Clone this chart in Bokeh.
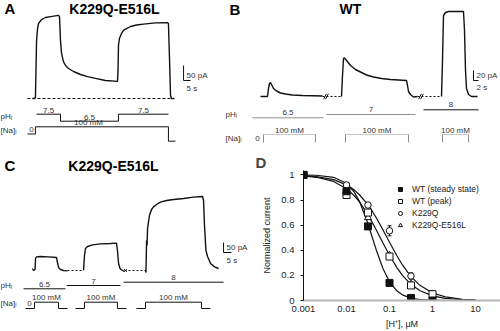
from bokeh.plotting import figure
from bokeh.layouts import row, column
from bokeh.models import (Range1d, FixedTicker, CustomJSTickFormatter, Legend,
                          LegendItem, ColumnDataSource, Whisker, TeeHead)
from bokeh.embed import file_html
from bokeh.resources import INLINE
from bokeh.core.properties import value

FONT = "Liberation Sans"
INK = "#111111"
TXT = "#333333"
GRAY = "#8f8f8f"
LIGHT = "#c8c8c8"

# ---------------- Panel A: K229Q-E516L, pH 7.5 -> 6.5 -> 7.5 ----------------
A_T = [0, 1.4, 2.1, 2.9, 3.6, 4.3, 6.4, 9.3, 12.9, 18.6, 19.3, 20.0, 20.7, 21.4,
       22.1, 23.6, 25.7, 29.3, 34.3, 39.3, 45.0, 52.1, 60.7, 61.1, 61.4, 62.1,
       63.6, 65.0, 67.1, 70.0, 74.3, 79.3, 87.9, 96.4, 97.1, 97.9, 98.6, 99.3, 101.4]
A_I = [0, 0, 3, 193, 233, 250, 263, 270, 273, 277, 273, 193, 153, 137, 123, 110,
       100, 90, 80, 73, 67, 60, 57, 93, 177, 200, 217, 227, 233, 240, 245, 248,
       252, 253, 250, 127, 10, 0, 0]
A_BASELINE = (-3.6, 99.3)
A_PH_EDGES = [2.9, 20.0, 61.4, 97.1]
A_PH = ["7.5", "6.5", "7.5"]
A_NA_EDGES = [2.1, 97.1]
A_SCALE = dict(t=107.9, i=60, dt=5, di=50, lab_i="50 pA", lab_t="5 s")

# ---------------- Panel B: WT ----------------
B1_T = [0, 2.8, 3.2, 3.6, 4.0, 4.4, 5.2, 6.4, 8.0, 10.0, 12.8, 16.8, 24.8]
B1_I = [0, 0, 16, 26, 28, 24, 16, 11, 7, 5, 3, 2, 1]
B2_T = [32.4, 32.8, 33.2, 33.6, 34.4, 36.0, 38.0, 40.0, 42.4, 45.2, 48.4, 52.0,
        58.4, 58.8, 59.2, 60.0, 61.2, 62.8]
B2_I = [0, 42, 76, 77, 72, 62, 54, 49, 43, 39, 36, 34, 32, 22, 10, 4, -1, 0]
B3_T = [72.4, 72.8, 73.2, 74.0, 75.2, 81.2, 81.6, 82.0, 82.4, 83.2, 84.4, 86.8]
B3_I = [0, 72, 162, 168, 170, 170, 132, 52, 16, 4, 0, 0]
B_GAPS = [(24.8, 32.4), (62.8, 72.4)]
B_PH_SEGS = [(-3.2, 25.2), (26.4, 62.0), (65.2, 87.2)]
B_PH = ["6.5", "7", "8"]
B_NA_ON = [(1.2, 22.0), (34.0, 59.2), (72.8, 83.2)]
B_SCALE = dict(t=85.2, i=32, dt=2, di=20, lab_i="20 pA", lab_t="2 s")

# ---------------- Panel C: K229Q-E516L, pH 6.5 / 7 / 8 ----------------
C1_T = [0, 0.6, 1.6, 1.9, 2.5, 5.0, 10.0, 15.0, 15.6, 16.3, 17.5, 19.4, 21.9]
C1_I = [10, 0, 5, 60, 68, 70, 68, 65, 40, 15, 5, 0, -2]
C2_T = [31.9, 32.5, 33.1, 34.4, 37.5, 42.5, 48.8, 52.5, 53.1, 53.8, 54.7, 56.3, 57.5]
C2_I = [0, 75, 110, 120, 128, 133, 135, 137, 100, 35, 10, 0, -5]
C3_T = [70.6, 70.9, 71.3, 71.6, 71.9, 73.1, 74.4, 75.6, 77.5, 80.0, 83.8, 88.1,
        94.4, 100.6, 106.3, 106.9, 107.5, 108.4, 109.4, 111.3, 113.8, 116.3]
C3_I = [0, -10, 150, 125, 210, 275, 305, 318, 330, 342, 350, 355, 360, 367, 370,
        350, 225, 100, 70, 35, 18, 10]
C_GAPS = [(21.9, 31.9), (57.5, 70.6)]
C_PH_SEGS = [(-5.6, 20.6), (21.3, 55.0), (56.9, 119.4)]
C_PH = ["6.5", "7", "8"]
C_NA_ON = [(1.25, 16.25), (32.5, 53.1), (70.6, 105.6)]
C_SCALE = dict(t=119.4, i=90, dt=5, di=50, lab_i="50 pA", lab_t="5 s")

# ---------------- Panel D: dose-response ----------------
H_UM = [0.001, 0.01, 0.0316, 0.1, 0.316, 1.0]
WT_SS = [1.0, 0.87, 0.59, 0.14, 0.02, 0.0]
WT_PEAK = [1.0, 0.84, 0.70, 0.35, 0.12, 0.05]
K229Q = [1.0, 0.92, 0.76, 0.555, 0.195, 0.055]
K229Q_ERR = [0.0, 0.01, 0.02, 0.04, 0.025, 0.01]
K229Q_E516L = [1.0, 0.89, 0.66, 0.36, 0.13, 0.04]
FIT_H = [0.001, 0.002, 0.005, 0.01, 0.015, 0.02, 0.03, 0.04, 0.05, 0.07, 0.1,
         0.15, 0.2, 0.3, 0.5, 1, 2, 5, 10]
FIT_SS = [0.999, 0.997, 0.981, 0.933, 0.866, 0.789, 0.633, 0.5, 0.396, 0.257,
          0.149, 0.075, 0.045, 0.021, 0.008, 0.002, 0.0006, 0.0001, 0.0]
FIT_PEAK = [0.992, 0.981, 0.948, 0.89, 0.836, 0.785, 0.695, 0.62, 0.557, 0.46,
            0.36, 0.26, 0.2, 0.136, 0.08, 0.037, 0.017, 0.006, 0.003]
FIT_K229Q = [0.994, 0.986, 0.962, 0.921, 0.881, 0.842, 0.772, 0.709, 0.655,
             0.564, 0.464, 0.354, 0.283, 0.2, 0.123, 0.06, 0.029, 0.01, 0.005]
X_TICKS = [0.001, 0.01, 0.1, 1, 10]
Y_TICKS = [0, 0.2, 0.4, 0.6, 0.8, 1.0]


def make_panel(W, H, x0, base, pxs, pxpa):
    p = figure(width=W, height=H,
               x_range=Range1d(-x0 / pxs, (W - x0) / pxs),
               y_range=Range1d(-(H - base) / pxpa, base / pxpa),
               x_axis_location=None, y_axis_location=None, min_border=0,
               output_backend="svg", toolbar_location=None)
    p.outline_line_color = None
    p.grid.visible = False
    fx = lambda px: (px - x0) / pxs
    fy = lambda py: (base - py) / pxpa
    return p, fx, fy


def put(p, x, y, s, size="8px", align="center", bold=False, color=TXT, xo=0, yo=0):
    p.text(x=[x], y=[y], text=[s], text_font=value(FONT), text_font_size=size,
           text_align=align, text_baseline="middle",
           text_font_style="bold" if bold else "normal", text_color=color,
           x_offset=xo, y_offset=yo)


def scale_bar(p, sc, yo_i, yo_t):
    t, i, dt, di = sc["t"], sc["i"], sc["dt"], sc["di"]
    p.line([t, t, t + dt], [i + di, i, i], line_color=INK, line_width=1)
    put(p, t, i + di / 2, sc["lab_i"], align="left", xo=3, yo=yo_i)
    put(p, t, i, sc["lab_t"], align="left", xo=3, yo=yo_t)


# ======================= Panel A =======================
AX0, AB, APXS, APA = 32, 98, 1.4, 0.3
pA, fxA, fyA = make_panel(222, 150, AX0, AB, APXS, APA)
pA.line(list(A_BASELINE), [0, 0], line_color=INK, line_width=1, line_dash="3 2")
pA.line(A_T, A_I, line_color=INK, line_width=1.4)
scale_bar(pA, A_SCALE, 2, 8)
put(pA, fxA(4), fyA(8), "A", size="15px", align="left", bold=True, color="#000")
put(pA, fxA(114), fyA(8), "K229Q-E516L", size="14px", bold=True, color="#000")
put(pA, fxA(0), fyA(115.5), "pHᵢ", align="left")
put(pA, fxA(0), fyA(129.5), "[Na]ᵢ", align="left")
A_PH_LEVEL = {"7.5": 113.7, "6.5": 120.7}
xs, ys = [], []
for k, v in enumerate(A_PH):
    lv = fyA(A_PH_LEVEL[v])
    xs += [A_PH_EDGES[k], A_PH_EDGES[k + 1]]
    ys += [lv, lv]
    put(pA, (A_PH_EDGES[k] + A_PH_EDGES[k + 1]) / 2, lv, v, yo=-4)
pA.line(xs, ys, line_color=INK, line_width=1)
na_hi, na_lo0, na_lo1 = fyA(126.3), fyA(133.5), fyA(140.7)
pA.line([A_NA_EDGES[0] - 8 / APXS, A_NA_EDGES[0], A_NA_EDGES[0], A_NA_EDGES[1],
         A_NA_EDGES[1], A_NA_EDGES[1] + 7 / APXS],
        [na_lo0, na_lo0, na_hi, na_hi, na_lo1, na_lo1], line_color=INK, line_width=1)
put(pA, A_NA_EDGES[0] - 4 / APXS, na_lo0, "0", yo=-4.5)
put(pA, fxA(88), na_hi, "100 mM", yo=-4)

# ======================= Panel B =======================
BOX = 222
BX0, BB, BPXS, BPA = 260 - BOX, 96, 2.5, 0.5
pB, fxB, fyB = make_panel(278, 150, BX0, BB, BPXS, BPA)
for a, b in B_GAPS:
    pB.line([a, b], [0, 0], line_color=INK, line_width=1, line_dash="2 2")
    pB.scatter([a + 1.0, a + 1.8], [0, 0], marker="dash", size=6, angle=1.1,
               line_color=INK, line_width=1)
for T, I in ((B1_T, B1_I), (B2_T, B2_I), (B3_T, B3_I)):
    pB.line(T, I, line_color=INK, line_width=1.4)
scale_bar(pB, B_SCALE, 0, 7)
put(pB, fxB(229 - BOX), fyB(8.5), "B", size="15px", align="left", bold=True, color="#000")
put(pB, fxB(350 - BOX), fyB(8), "WT", size="14px", bold=True, color="#000")
put(pB, fxB(225 - BOX), fyB(114), "pHᵢ", align="left")
put(pB, fxB(225 - BOX), fyB(138), "[Na]ᵢ", align="left")
B_PH_LEVEL = {"6.5": 117.3, "7": 114.0, "8": 109.3}
B_PH_COLOR = {"6.5": GRAY, "7": GRAY, "8": INK}
for (a, b), v in zip(B_PH_SEGS, B_PH):
    lv = fyB(B_PH_LEVEL[v])
    pB.line([a, b], [lv, lv], line_color=B_PH_COLOR[v], line_width=1)
    put(pB, (a + b) / 2, lv, v, yo=-5)
tick_top, tick_bot = fyB(134), fyB(142)
for a, b in B_NA_ON:
    pB.line([a, b], [tick_top, tick_top], line_color=LIGHT, line_width=1)
    pB.segment([a, b], [tick_top, tick_top], [a, b], [tick_bot, tick_bot],
               line_color=GRAY, line_width=1)
    put(pB, (a + b) / 2, tick_top, "100 mM", yo=-4)
put(pB, B_NA_ON[0][0] - 6 / BPXS, fyB(138), "0")

# ======================= Panel C =======================
COY = 150
CX0, CB, CPXS, CPA = 32, 270 - COY, 1.6, 0.2
pC, fxC, fyC = make_panel(250, 181, CX0, CB, CPXS, CPA)
for a, b in C_GAPS:
    pC.line([a, b], [0, 0], line_color=INK, line_width=1, line_dash="2 2")
pC.scatter([C_GAPS[1][0] + 0.6], [0], marker="x", size=4, line_color=INK, line_width=1)
for T, I in ((C1_T, C1_I), (C2_T, C2_I), (C3_T, C3_I)):
    pC.line(T, I, line_color=INK, line_width=1.4)
scale_bar(pC, C_SCALE, 0, 8)
put(pC, fxC(4), fyC(165 - COY), "C", size="15px", align="left", bold=True, color="#000")
put(pC, fxC(113), fyC(165 - COY), "K229Q-E516L", size="14px", bold=True, color="#000")
put(pC, fxC(0), fyC(285 - COY), "pHᵢ", align="left")
put(pC, fxC(0), fyC(303 - COY), "[Na]ᵢ", align="left")
C_PH_LEVEL = {"6.5": 288.3, "7": 285.0, "8": 281.7}
for (a, b), v in zip(C_PH_SEGS, C_PH):
    lv = fyC(C_PH_LEVEL[v] - COY)
    pC.line([a, b], [lv, lv], line_color=INK, line_width=1)
    put(pC, (a + b) / 2, lv, v, yo=-4.5)
c_hi, c_lo = fyC(301.7 - COY), fyC(308 - COY)
lead = 9 / CPXS
for a, b in C_NA_ON:
    pC.line([a - lead, a, a, b, b, b + lead], [c_lo, c_lo, c_hi, c_hi, c_lo, c_lo],
            line_color=INK, line_width=1)
    put(pC, (a + b) / 2, c_hi, "100 mM", yo=-4.5)
put(pC, C_NA_ON[0][0] - 5 / CPXS, c_lo, "0", yo=-5)

# ======================= Panel D =======================
D_DECADE_PX = 43.0
D_FRAME_W = 250 - 53
pD = figure(width=250, height=181, x_axis_type="log",
            x_range=Range1d(0.001, 0.001 * 10 ** (D_FRAME_W / D_DECADE_PX)),
            y_range=Range1d(0, 1.035), output_backend="svg", toolbar_location=None,
            min_border_left=53, min_border_right=0, min_border_top=20,
            min_border_bottom=31)
pD.grid.visible = False
pD.outline_line_color = None
pD.title.text = "D"
pD.title.text_font = FONT
pD.title.text_font_size = "15px"
pD.title.text_font_style = "bold"
pD.title.align = "left"
pD.title.offset = -48
pD.title.standoff = 0

pD.xaxis.ticker = FixedTicker(ticks=X_TICKS)
pD.xaxis.formatter = CustomJSTickFormatter(code="return tick.toString();")
pD.yaxis.ticker = FixedTicker(ticks=Y_TICKS)
pD.yaxis.formatter = CustomJSTickFormatter(code="return (Math.round(tick*10)/10).toString();")
for ax in (pD.xaxis[0], pD.yaxis[0]):
    ax.major_label_text_font = FONT
    ax.major_label_text_font_size = "9.5px"
    ax.major_label_text_color = "#222"
    ax.axis_label_text_font = FONT
    ax.axis_label_text_font_size = "9px"
    ax.axis_label_text_font_style = "normal"
    ax.axis_label_text_color = "#222"
    ax.minor_tick_line_color = None
pD.xaxis.axis_label = "[H⁺], μM"
pD.xaxis.axis_line_color = "#b5b5b5"
pD.xaxis.axis_line_width = 2
pD.xaxis.major_tick_line_color = None
pD.xaxis.major_tick_out = 0
pD.xaxis.major_tick_in = 0
pD.xaxis.major_label_standoff = 5
pD.xaxis.axis_label_standoff = 4
pD.yaxis.axis_label = "Normalized current"
pD.yaxis.axis_line_color = INK
pD.yaxis.major_tick_line_color = INK
pD.yaxis.major_tick_out = 3
pD.yaxis.major_tick_in = 0
pD.yaxis.major_label_standoff = 6
pD.yaxis.axis_label_standoff = 6

for fit in (FIT_SS, FIT_PEAK, FIT_K229Q):
    pD.line(FIT_H, fit, line_color=INK, line_width=1.2)

err_src = ColumnDataSource(dict(x=H_UM, lo=[v - e for v, e in zip(K229Q, K229Q_ERR)],
                                hi=[v + e for v, e in zip(K229Q, K229Q_ERR)]))
pD.add_layout(Whisker(source=err_src, base="x", lower="lo", upper="hi",
                      line_color=INK, line_width=1,
                      upper_head=TeeHead(size=4, line_color=INK, line_width=1),
                      lower_head=TeeHead(size=4, line_color=INK, line_width=1)))

r_tri = pD.scatter(H_UM, K229Q_E516L, marker="triangle", size=7, fill_color="white",
                   line_color=INK, line_width=1)
r_cir = pD.scatter(H_UM, K229Q, marker="circle", size=6.5, fill_color="white",
                   line_color=INK, line_width=1)
r_opn = pD.scatter(H_UM, WT_PEAK, marker="square", size=7, fill_color="white",
                   line_color=INK, line_width=1)
r_ss = pD.scatter(H_UM, WT_SS, marker="square", size=7, fill_color=INK,
                  line_color=INK, line_width=1)

legend = Legend(items=[LegendItem(label="WT (steady state)", renderers=[r_ss]),
                       LegendItem(label="WT (peak)", renderers=[r_opn]),
                       LegendItem(label="K229Q", renderers=[r_cir]),
                       LegendItem(label="K229Q-E516L", renderers=[r_tri])],
                location=(92, 69), padding=0, spacing=0, margin=0,
                glyph_width=10, glyph_height=12, label_height=12,
                label_standoff=7, label_text_font=FONT,
                label_text_font_size="8.5px", label_text_color="#222",
                background_fill_alpha=0, border_line_alpha=0)
pD.add_layout(legend)

layout = column(row(pA, pB), row(column(pC), column(pD)))
open("out.html", "w").write(file_html(layout, INLINE))
